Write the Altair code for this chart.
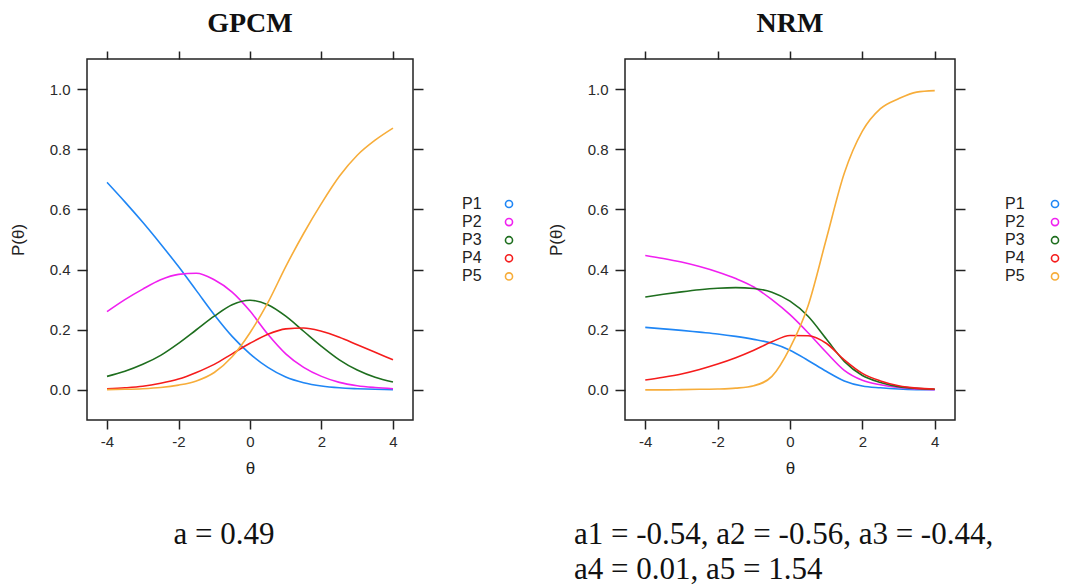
import altair as alt
import pandas as pd

# ---------------- data ----------------
theta = [-4, -3.5, -3, -2.5, -2, -1.5, -1, -0.5, 0, 0.5, 1, 1.5, 2, 2.5, 3, 3.5, 4]
series = ["P1", "P2", "P3", "P4", "P5"]
colors = ["#1f86f5", "#f020f0", "#1e6e1e", "#f51c1c", "#f7ad3a"]

gpcm_p1 = [0.69, 0.625, 0.557, 0.485, 0.41, 0.33, 0.25, 0.178, 0.12, 0.075, 0.043, 0.024, 0.013, 0.007, 0.004, 0.002, 0.001]
gpcm_p2 = [0.26, 0.30, 0.335, 0.366, 0.384, 0.388, 0.366, 0.325, 0.262, 0.185, 0.12, 0.075, 0.045, 0.025, 0.014, 0.008, 0.004]
gpcm_p3 = [0.045, 0.062, 0.085, 0.115, 0.155, 0.20, 0.245, 0.283, 0.298, 0.283, 0.245, 0.195, 0.145, 0.10, 0.066, 0.042, 0.026]
gpcm_p4 = [0.004, 0.007, 0.012, 0.022, 0.036, 0.058, 0.085, 0.12, 0.155, 0.185, 0.203, 0.206, 0.195, 0.175, 0.15, 0.125, 0.10]
gpcm_p5 = [0.001, 0.002, 0.004, 0.008, 0.016, 0.03, 0.058, 0.11, 0.19, 0.29, 0.41, 0.52, 0.62, 0.71, 0.78, 0.83, 0.87]

nrm_p1 = [0.208, 0.203, 0.198, 0.192, 0.186, 0.178, 0.168, 0.155, 0.132, 0.098, 0.062, 0.03, 0.013, 0.007, 0.003, 0.001, 0.0005]
nrm_p2 = [0.447, 0.437, 0.425, 0.41, 0.392, 0.37, 0.342, 0.30, 0.25, 0.19, 0.125, 0.065, 0.032, 0.017, 0.008, 0.003, 0.001]
nrm_p3 = [0.309, 0.318, 0.326, 0.333, 0.338, 0.340, 0.337, 0.325, 0.295, 0.245, 0.17, 0.095, 0.048, 0.025, 0.011, 0.005, 0.002]
nrm_p4 = [0.033, 0.042, 0.053, 0.068, 0.086, 0.107, 0.132, 0.16, 0.181, 0.18, 0.155, 0.10, 0.055, 0.03, 0.014, 0.006, 0.003]
nrm_p5 = [0.0, 0.0, 0.001, 0.002, 0.003, 0.006, 0.014, 0.045, 0.14, 0.28, 0.50, 0.72, 0.86, 0.935, 0.968, 0.99, 0.995]

x_ticks = [-4, -2, 0, 2, 4]
y_ticks = [0.0, 0.2, 0.4, 0.6, 0.8, 1.0]

gpcm_caption = "a = 0.49"
nrm_caption = "a1 = -0.54, a2 = -0.56, a3 = -0.44,\na4 = 0.01, a5 = 1.54"


def long_df(vals_list):
    rows = []
    for s, vals in zip(series, vals_list):
        for t, v in zip(theta, vals):
            rows.append({"theta": t, "P": v, "series": s, "label": s})
    return pd.DataFrame(rows)


def panel(df, title, width, sym_x, lab_x, caption, caption_x, caption_align):
    xscale = alt.Scale(domain=[-4.56, 4.56], nice=False, zero=False)
    yscale = alt.Scale(domain=[-0.1, 1.1], nice=False, zero=False)
    lines = alt.Chart(df).mark_line(strokeWidth=1.6, interpolate="monotone").encode(
        x=alt.X("theta:Q", scale=xscale,
                axis=alt.Axis(orient="bottom", values=x_ticks, title="θ",
                              labelExpr="'' + datum.value", tickSize=9,
                              labelPadding=5, titlePadding=11)),
        y=alt.Y("P:Q", scale=yscale,
                axis=alt.Axis(orient="left", values=y_ticks, format=".1f",
                              title="P(θ)", tickSize=10, labelPadding=7,
                              titlePadding=22)),
        color=alt.Color("series:N",
                        scale=alt.Scale(domain=series, range=colors),
                        legend=alt.Legend(orient="none", legendX=sym_x, legendY=137,
                                          title=None, symbolType="circle", symbolSize=50,
                                          symbolStrokeWidth=1.6, labelExpr="''",
                                          labelOffset=0, labelFontSize=16,
                                          rowPadding=2.1, padding=0)),
    )
    # invisible layer: carries the top/right tick axes and the label column of the key
    frame_axes = alt.Chart(df).mark_line(strokeOpacity=0).encode(
        x=alt.X("theta:Q", scale=xscale,
                axis=alt.Axis(orient="top", values=x_ticks, labels=False, title=None,
                              tickSize=8)),
        y=alt.Y("P:Q", scale=yscale,
                axis=alt.Axis(orient="right", values=y_ticks, labels=False, title=None,
                              tickSize=10)),
        strokeDash=alt.StrokeDash("label:N",
                                  legend=alt.Legend(orient="none", legendX=lab_x, legendY=137,
                                                    title=None, symbolOpacity=0,
                                                    symbolSize=1, symbolStrokeWidth=0,
                                                    labelOffset=0, labelFont="Liberation Sans",
                                                    labelFontSize=16, labelColor="#222",
                                                    rowPadding=2.1, padding=0)),
    )
    cap = alt.Chart(pd.DataFrame({"t": [caption]})).mark_text(
        font="Liberation Serif", fontSize=31, color="#111", align=caption_align,
        baseline="alphabetic", lineBreak="\n", lineHeight=35,
    ).encode(x=alt.value(caption_x), y=alt.value(485), text="t:N")

    return alt.layer(lines, frame_axes, cap).resolve_axis(
        x="independent", y="independent"
    ).properties(
        width=width, height=361,
        title=alt.TitleParams(title, font="Liberation Serif", fontSize=28,
                              fontWeight="bold", color="#111", offset=12,
                              anchor="middle", frame="group"),
    )


left = panel(long_df([gpcm_p1, gpcm_p2, gpcm_p3, gpcm_p4, gpcm_p5]),
             "GPCM", 326, 414, 359, gpcm_caption, 137, "center")
right = panel(long_df([nrm_p1, nrm_p2, nrm_p3, nrm_p4, nrm_p5]),
              "NRM", 330, 422, 364, nrm_caption, -51, "left")

chart = alt.hconcat(left, right, spacing=28).resolve_scale(
    color="independent", strokeDash="independent"
).resolve_legend(color="independent", strokeDash="independent").properties(
    padding={"left": 8, "top": 9, "right": 0, "bottom": 0},
    background="white",
).configure_view(
    stroke="#222", strokeWidth=1.5
).configure_axis(
    domain=False, grid=False, tickColor="#222", tickWidth=1.5,
    labelFont="Liberation Sans", labelFontSize=15, labelColor="#2a2a2a",
    titleFont="Liberation Sans", titleFontSize=17, titleFontWeight="normal",
    titleColor="#222",
)

chart.save("out.html", embed_options={"renderer": "svg", "actions": False})
